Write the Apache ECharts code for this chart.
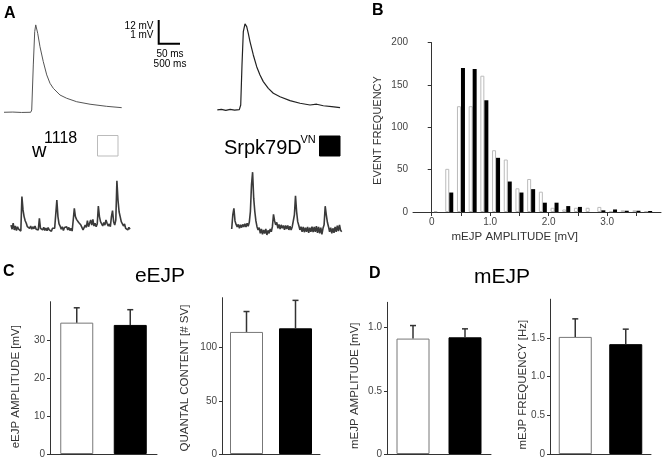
<!DOCTYPE html>
<html><head><meta charset="utf-8">
<script src="https://cdn.jsdelivr.net/npm/echarts@6/dist/echarts.min.js"></script>
<style>html,body{margin:0;padding:0;background:#fff}#c{width:662px;height:461px}</style>
</head><body><div id="c"></div>
<script>
// ---------- DATA ----------
// Panel A: evoked EJP traces [time ms, mV above baseline]
const eejpTraceW1118 = [[0,0],[20,0.1],[40,-0.1],[60.7,0],[63,1.2],[66.6,24.7],[69.8,42.1],[72.1,45.6],[74.3,44.7],[76.6,41.2],[81.8,34.2],[89.3,26.4],[97.1,19.5],[104.6,15.1],[112.1,12.5],[127.3,9.0],[142.5,7.3],[165.2,5.5],[195.5,4.2],[233.4,3.1],[267.5,2.4]];
const eejpTraceSrpk = [[0.7,0],[10,0.3],[20,-0.2],[30,0.3],[40,-0.1],[50.7,0.2],[53.9,2.6],[56.8,23.5],[59.8,40.9],[63.6,44.9],[67.5,43.5],[71.1,40.0],[75.0,35.7],[82.5,28.7],[90.2,22.6],[97.7,18.3],[105.2,14.8],[116.6,11.3],[128.0,8.7],[143.2,6.9],[165.9,4.9],[188.7,3.5],[211.4,2.6],[226.6,3.0],[241.6,2.2],[260.7,1.7],[279.6,1.2]];
// Panel A: spontaneous mEJP traces, sampled every 25 ms (mV)
const miniStepMs = 25;
const miniTraceW1118 = [0.17,-0.01,0.25,-0.04,0.13,-0.07,0.10,-0.01,0.07,-0.09,1.41,0.83,0.54,0.36,0.25,0.10,0.17,0.03,0.13,-0.01,0.10,0.01,0.13,-0.01,0.07,-0.04,0.46,0.03,0.10,-0.04,0.07,-0.06,0.04,-0.07,0.06,-0.04,0.01,-0.10,0.03,-0.04,0.04,-0.01,1.26,0.54,0.22,0.13,-0.01,0.10,-0.07,0.07,-0.01,0.10,-0.04,0.07,-0.07,0.03,-0.09,0.39,0.90,0.54,0.42,0.36,0.28,0.32,0.17,0.10,-0.04,-0.12,0.17,0.07,0.36,0.10,0.25,0.39,0.17,0.42,0.13,0.25,0.10,0.22,1.00,0.54,0.32,0.25,0.13,0.28,0.17,0.39,0.25,0.13,0.22,0.10,0.54,0.80,0.32,0.17,0.39,2.10,1.26,0.75,0.54,0.32,0.25,0.13,0.22,0.03,0.10,-0.04,0.07,-0.01];
const miniTraceSrpk = [-0.03,0.58,0.87,0.32,0.17,0.06,0.17,0,0.15,0.03,0.17,0.06,0.20,0.06,0.22,0.09,0.26,0.73,1.89,2.44,1.31,0.73,0.32,0.07,-0.07,0.03,-0.22,-0.03,-0.26,-0.07,-0.23,-0.03,-0.29,-0.09,-0.22,-0.03,-0.15,0.07,0.61,0.32,0.15,0.26,0,0.17,-0.03,0.15,0,0.12,-0.06,0.12,-0.03,0.12,-0.07,0.09,-0.07,0.06,0,0.58,1.41,0.73,0.29,0.12,-0.07,0.07,-0.15,0.06,-0.17,0.03,-0.15,0.06,-0.20,0.03,-0.15,0.07,-0.17,0.06,-0.15,0.09,-0.20,0.06,-0.22,0.03,-0.26,0,0.15,0.96,0.58,0.26,0.07,-0.15,0.03,-0.22,0,-0.20,0.06,-0.15,0.12,-0.12,0.15,-0.09,-0.15];
// Panel B: histogram
const binCenters = [0.1,0.3,0.5,0.7,0.9,1.1,1.3,1.5,1.7,1.9,2.1,2.3,2.5,2.7,2.9,3.1,3.3,3.5,3.7];
const histW1118 = [1,51,125,125,161,73,62,28,39,24,5,3,5,5,6,1,2,2,1];
const histSrpk  = [0,23,170,169,132,64,36,23,27,11,11,7,6,0,2,3,1.5,1.5,1.2];
const histYTicks = [0,50,100,150,200];
const histXTicks = [0,0.5,1,1.5,2,2.5,3,3.5];
const histXLabels = [0,1,2,3];
// Panels C, D: means and upper error bar ends
const groups = ['w1118','Srpk79D VN'];
const eejpAmpMean = [34.5,33.9],  eejpAmpTop = [38.4,37.9];
const quantalMean = [114.8,118.2], quantalTop = [134.0,144.5];
const mejpAmpMean = [0.913,0.923], mejpAmpTop = [1.016,0.99];
const mejpFreqMean = [1.513,1.419], mejpFreqTop = [1.746,1.613];
const eejpAmpTicks = [0,10,20,30];
const quantalTicks = [0,50,100];
const mejpAmpTicks = [0,0.5,1.0];
const mejpFreqTicks = [0,0.5,1.0,1.5];

// ---------- CHART ----------
const FONT = 'Arial, "Liberation Sans", Helvetica, sans-serif';
const chart = echarts.init(document.getElementById('c'), null, {renderer:'canvas'});

const grids = [
  {left:4, top:20.3, width:118.8, height:95.8},   // 0 A left eEJP
  {left:217, top:18, width:124.1, height:95.8},   // 1 A right eEJP
  {left:11, top:173.8, width:119, height:62.1},   // 2 A left mini
  {left:231.7, top:168.5, width:110, height:69},  // 3 A right mini
  {left:413, top:42.7, width:248, height:169.3},  // 4 B
  {left:50, top:301.7, width:107, height:152.3},  // 5 C1
  {left:222, top:297.7, width:98, height:156.3},  // 6 C2
  {left:387, top:302.3, width:104, height:151.7}, // 7 D1
  {left:550, top:299.2, width:101, height:154.8}  // 8 D2
];

const hiddenX = (i,min,max)=>({type:'value', gridIndex:i, min, max, show:false});
const hiddenY = (i,min,max)=>({type:'value', gridIndex:i, min, max, show:false});

const axLine = {show:true, lineStyle:{color:'#333', width:1}};
const labelStyle = {color:'#444', fontSize:10, fontFamily:FONT};

function barX(i){
  return {type:'category', gridIndex:i, data:groups, axisLine:axLine, axisTick:{show:false}, axisLabel:{show:false}, splitLine:{show:false}};
}
function barY(i,max,ticks,fmt){
  return {type:'value', gridIndex:i, min:0, max:max, axisLine:axLine,
    axisTick:{show:true, length:3, lineStyle:{color:'#333'}, customValues:ticks},
    axisLabel:Object.assign({margin:5, customValues:ticks, formatter:fmt}, labelStyle),
    splitLine:{show:false}};
}
const fmt1 = v => v===0 ? '0' : v.toFixed(1);
const fmt0 = v => String(v);

const xAxes = [
  hiddenX(0,0,270), hiddenX(1,0,282), hiddenX(2,0,2725), hiddenX(3,0,2500),
  {type:'value', gridIndex:4, min:-0.32, max:3.92, axisLine:axLine,
    axisTick:{show:true, length:4, lineStyle:{color:'#333'}, customValues:histXTicks},
    axisLabel:Object.assign({margin:5, customValues:histXLabels, formatter:fmt1}, labelStyle),
    splitLine:{show:false}},
  barX(5), barX(6), barX(7), barX(8)
];
const yAxes = [
  hiddenY(0,-2,48), hiddenY(1,-2,48), hiddenY(2,-0.3,2.4), hiddenY(3,-0.4,2.6),
  {type:'value', gridIndex:4, min:0, max:200, axisLine:axLine,
    axisTick:{show:true, length:4, lineStyle:{color:'#333'}, customValues:histYTicks},
    axisLabel:Object.assign({margin:5, customValues:histYTicks}, labelStyle),
    splitLine:{show:false}},
  barY(5,40,eejpAmpTicks,fmt0), barY(6,147,quantalTicks,fmt0),
  barY(7,1.2,mejpAmpTicks,fmt1), barY(8,2.0,mejpFreqTicks,fmt1)
];

function trace(data, idx, color, w){
  return {type:'line', xAxisIndex:idx, yAxisIndex:idx, data, showSymbol:false, symbol:'none',
    lineStyle:{color, width:w||1}, silent:true, animation:false};
}
const barStyles = [
  {color:'#fff', borderColor:'#777', borderWidth:1},
  {color:'#000', borderColor:'#000', borderWidth:1}
];
function bars(mean, idx){
  return {type:'bar', xAxisIndex:idx, yAxisIndex:idx, barWidth:33, animation:false,
    data: mean.map((v,i)=>({value:v, itemStyle:barStyles[i]}))};
}
function errRender(params, api){
  const x = api.value(0), m = api.value(1), hi = api.value(2);
  const p0 = api.coord([x,m]), p1 = api.coord([x,hi]);
  const st = {stroke:'#333', lineWidth:1.5};
  return {type:'group', children:[
    {type:'line', shape:{x1:p0[0],y1:p0[1],x2:p1[0],y2:p1[1]}, style:st},
    {type:'line', shape:{x1:p1[0]-3,y1:p1[1],x2:p1[0]+3,y2:p1[1]}, style:st}
  ]};
}
function errs(mean, top, idx){
  return {type:'custom', xAxisIndex:idx, yAxisIndex:idx, renderItem:errRender, z:3, animation:false,
    data: mean.map((v,i)=>[i, v, top[i]])};
}

const series = [
  trace(eejpTraceW1118, 0, '#555', 1),
  trace(eejpTraceSrpk, 1, '#222', 1.2),
  trace(miniTraceW1118.map((v,i)=>[i*miniStepMs, v]), 2, '#3a3a3a', 1.6),
  trace(miniTraceSrpk.map((v,i)=>[i*miniStepMs, v]), 3, '#3a3a3a', 1.6),
  {type:'bar', xAxisIndex:4, yAxisIndex:4, barWidth:4, barGap:'0%', animation:false,
    itemStyle:{color:'#fff', borderColor:'#bbb', borderWidth:1},
    data: binCenters.map((b,i)=>[b, histW1118[i]])},
  {type:'bar', xAxisIndex:4, yAxisIndex:4, barWidth:4, barGap:'0%', animation:false,
    itemStyle:{color:'#000'},
    data: binCenters.map((b,i)=>[b, histSrpk[i]])},
  bars(eejpAmpMean,5), errs(eejpAmpMean,eejpAmpTop,5),
  bars(quantalMean,6), errs(quantalMean,quantalTop,6),
  bars(mejpAmpMean,7), errs(mejpAmpMean,mejpAmpTop,7),
  bars(mejpFreqMean,8), errs(mejpFreqMean,mejpFreqTop,8)
];

function txt(text, x, y, size, opts){
  return Object.assign({type:'text', x, y, style:Object.assign({text, fill:'#000', font: size+'px '+FONT, textAlign:'left', textVerticalAlign:'middle'}, opts&&opts.style||{})}, opts&&opts.el||{});
}
function vtxt(text, x, y, size){
  return {type:'text', x, y, rotation:Math.PI/2, style:{text, fill:'#333', font:size+'px '+FONT, textAlign:'center', textVerticalAlign:'middle'}};
}
const bold = s => ({style:{font:'bold '+s+'px '+FONT}});

const graphic = [
  txt('A', 4, 14, 16, bold(16)),
  txt('B', 372, 11, 16, bold(16)),
  txt('C', 3, 272, 16, bold(16)),
  txt('D', 369, 274, 16, bold(16)),
  // scale bar
  {type:'polyline', shape:{points:[[158.7,20],[158.7,43.7],[180,43.7]]}, style:{stroke:'#000', lineWidth:2, fill:null}},
  txt('12 mV', 153.5, 26.5, 10, {style:{textAlign:'right'}}),
  txt('1 mV', 153.5, 35.5, 10, {style:{textAlign:'right'}}),
  txt('50 ms', 170, 54.5, 10, {style:{textAlign:'center'}}),
  txt('500 ms', 170, 64.5, 10, {style:{textAlign:'center'}}),
  // legend
  txt('w', 32, 151, 20),
  txt('1118', 44, 139, 16),
  {type:'rect', shape:{x:97.5, y:135.5, width:20.5, height:20.5}, style:{fill:'#fff', stroke:'#bbb', lineWidth:1}},
  txt('Srpk79D', 224, 148.5, 20),
  txt('VN', 300.5, 139.5, 11),
  {type:'rect', shape:{x:319.5, y:136, width:20.5, height:20}, style:{fill:'#000', stroke:'#000', lineWidth:1}},
  // titles
  txt('eEJP', 160, 276, 21, {style:{textAlign:'center'}}),
  txt('mEJP', 502, 277, 21, {style:{textAlign:'center'}}),
  // axis names
  vtxt('EVENT FREQUENCY', 378.3, 130.5, 11),
  {type:'text', x:514.8, y:236.5, style:{text:'mEJP AMPLITUDE [mV]', fill:'#333', font:'11.5px '+FONT, textAlign:'center', textVerticalAlign:'middle'}},
  vtxt('eEJP AMPLITUDE [mV]', 16, 386.7, 11.5),
  vtxt('QUANTAL CONTENT [# SV]', 185, 378, 11.5),
  vtxt('mEJP AMPLITUDE [mV]', 355, 385.7, 11.5),
  vtxt('mEJP FREQUENCY [Hz]', 523.3, 384.7, 11.5)
];

chart.setOption({
  backgroundColor:'#fff',
  animation:false,
  textStyle:{fontFamily:FONT},
  grid:grids, xAxis:xAxes, yAxis:yAxes, series, graphic
});
</script></body></html>
